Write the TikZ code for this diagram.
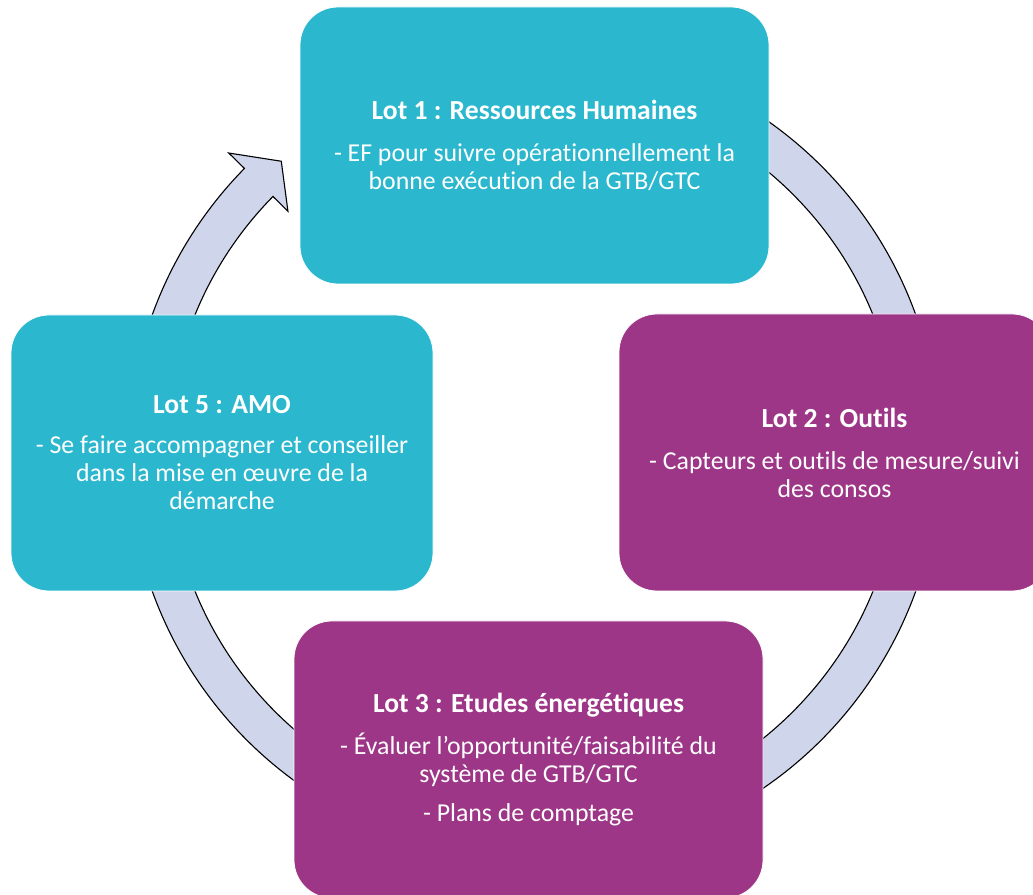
\documentclass[tikz,border=0pt]{standalone}
\usepackage{fontspec}
\setmainfont{Carlito}[Ligatures=NoCommon]
\usetikzlibrary{calc}
\definecolor{tealbox}{RGB}{43,183,206}
\definecolor{purplebox}{RGB}{157,54,135}
\definecolor{ringfill}{RGB}{207,213,234}
\newcommand{\lottitle}[1]{{\fontsize{27.6}{28}\selectfont\bfseries #1}}
\begin{document}
\begin{tikzpicture}[x=1pt,y=1pt,
  lotbox/.style={rounded corners=38pt, draw=white, line width=0.8pt, text=white,
    align=center, inner sep=0pt, font=\fontsize{25.8}{28}\selectfont},
  ringstyle/.style={fill=ringfill, draw=black, line width=1.1pt, line join=miter}]
\useasboundingbox (0,0) rectangle (1033,894);
\clip (0,0) rectangle (1033,894);
\coordinate (C) at (534,441);
\draw[ringstyle] ($(C)+(110:406)$) arc[start angle=110, end angle=-224.5, radius=406]
  -- ($(C)+(135.5:428)$) -- ($(C)+(130.9:386)$) -- ($(C)+(135.5:345)$)
  -- ($(C)+(135.5:366)$) arc[start angle=-224.5, end angle=110, radius=366] -- cycle;
\node[lotbox, fill=tealbox, minimum width=469pt, minimum height=277pt] (lot1) at (534.5,748.5)
  {\lottitle{Lot 1 : Ressources Humaines}\\[14pt]- EF pour suivre opérationnellement la\\bonne exécution de la GTB/GTC};
\node[lotbox, fill=purplebox, minimum width=431pt, minimum height=277pt] (lot2) at (834.5,441.5)
  {\lottitle{Lot 2 : Outils}\\[14pt]- Capteurs et outils de mesure/suivi\\des consos};
\node[lotbox, fill=purplebox, minimum width=469pt, minimum height=277pt] (lot3) at (528.5,134.5)
  {\lottitle{Lot 3 : Etudes énergétiques}\\[14pt]- Évaluer l’opportunité/faisabilité du\\système de GTB/GTC\\[11pt]- Plans de comptage};
\node[lotbox, fill=tealbox, minimum width=422pt, minimum height=276pt] (lot5) at (222,441)
  {\lottitle{Lot 5 : AMO}\\[12pt]- Se faire accompagner et conseiller\\dans la mise en œuvre de la\\démarche};
\end{tikzpicture}
\end{document}
